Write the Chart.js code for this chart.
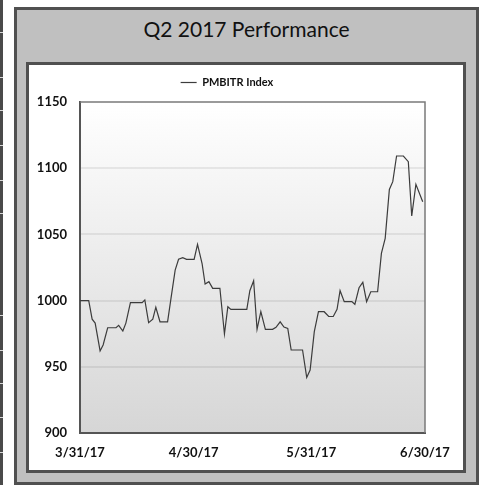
<!DOCTYPE html>
<html>
<head>
<meta charset="utf-8">
<title>Q2 2017 Performance</title>
<script src="https://cdn.jsdelivr.net/npm/chart.js@4.4.1/dist/chart.umd.min.js"></script>
<style>
  body { margin: 0; width: 479px; height: 485px; background: #fff; position: relative; overflow: hidden; font-family: Lato, "Open Sans", sans-serif; }
  #edge { position: absolute; left: 0; top: 0; width: 3px; height: 485px; background: #4a4a4a; }
  .notch { position: absolute; left: 0; width: 3px; height: 1px; background: #d8d8d8; }
  #frame { position: absolute; left: 14px; top: 7px; width: 459px; height: 472px; background: #c0c0c0; border: 3px solid #505050; }
  #title { position: absolute; left: 0; top: 0; width: 100%; height: 38px; line-height: 38px; text-align: center; font-size: 21px; color: #111; }
  #box { position: absolute; left: 9px; top: 52px; width: 434px; height: 405px; background: #fff; border: 3px solid #505050; }
</style>
</head>
<body>
<div id="edge"></div>
<div id="frame">
  <div id="title">Q2 2017 Performance</div>
  <div id="box"><canvas id="perfChart" width="434" height="405"></canvas></div>
</div>
<script>
// PMBITR index level, days counted from 3/31/17
const days = [0, 2.3, 3.2, 4.0, 5.3, 6.1, 7.3, 9.5, 10.2, 11.3, 12.1, 13.3, 16.4, 17.1, 18.1, 19.2, 20.0, 21.1, 23.1,
  24.0, 25.1, 26.0, 27.1, 28.1, 30.1, 31.0, 32.2, 33.0, 34.0, 35.0, 36.9, 38.1, 39.0, 39.8, 44.0, 44.8, 45.8,
  46.7, 47.7, 48.9, 50.8, 51.7, 52.8, 53.8, 54.8, 55.7, 58.7, 59.8, 60.7, 61.8, 62.9, 64.4, 65.6, 66.8, 67.8,
  68.6, 69.7, 71.7, 72.5, 73.6, 74.6, 75.6, 76.7, 78.5, 79.5, 80.5, 81.6, 82.5, 83.5, 85.3, 86.6, 87.5, 88.6, 90.4];
const indexLevel = [1000, 1000, 986, 983, 962, 966.5, 979.5, 979.5, 981.3, 977, 983, 998.4, 998.4, 1000.5, 983.3, 986, 995, 984, 984,
  1001.7, 1023, 1031.2, 1032.4, 1031.2, 1031.2, 1042.5, 1028, 1012.5, 1014.3, 1009.3, 1009.3, 974.8, 995.4, 993.4, 993.4, 1007.5, 1015,
  978.3, 991.6, 978.3, 978.3, 979.8, 984, 980, 979, 962.7, 962.7, 942, 947.6, 976.5, 991.6, 991.6, 988, 988, 993.4,
  1007.5, 999.2, 999.2, 997.2, 1009.7, 1013.8, 999.2, 1006.7, 1006.7, 1035.7, 1047, 1084, 1089.8, 1109.2, 1109.2, 1104.9, 1063.9, 1087.8, 1074.7];

const tickDays = [0, 30, 61, 91];
const tickLabels = ['3/31/17', '4/30/17', '5/31/17', '6/30/17'];
const yMin = 900, yMax = 1150, yStep = 50;

// little table edge peeking in on the left
[32, 77, 110, 145, 180, 213, 315, 350, 383, 417, 452].forEach(y => {
  const n = document.createElement('div');
  n.className = 'notch';
  n.style.top = y + 'px';
  document.body.appendChild(n);
});

// extra space between the legend and the plot
const legendGap = {
  id: 'legendGap',
  beforeInit(chart) {
    const fit = chart.legend.fit;
    chart.legend.fit = function () {
      fit.call(this);
      this.height += 4;
    };
  }
};

// gradient fill behind the plot, plus the light top/right frame
const plotBackdrop = {
  id: 'plotBackdrop',
  beforeDraw(chart) {
    const { ctx, chartArea: a } = chart;
    const g = ctx.createLinearGradient(0, a.top, 0, a.bottom);
    g.addColorStop(0, '#ffffff');
    g.addColorStop(1, '#d6d6d6');
    ctx.save();
    ctx.fillStyle = g;
    ctx.fillRect(a.left, a.top, a.right - a.left, a.bottom - a.top);
    ctx.restore();
  },
  afterDraw(chart) {
    const { ctx, chartArea: a } = chart;
    ctx.save();
    ctx.strokeStyle = '#7a7a7a';
    ctx.lineWidth = 1.5;
    ctx.beginPath();
    ctx.moveTo(a.left, a.top);
    ctx.lineTo(a.right, a.top);
    ctx.lineTo(a.right, a.bottom);
    ctx.stroke();
    ctx.restore();
  }
};

const tickFont = { family: 'Lato', size: 13, weight: 'bold' };

new Chart(document.getElementById('perfChart'), {
  type: 'line',
  data: {
    datasets: [{
      label: 'PMBITR Index',
      data: days.map((d, i) => ({ x: d, y: indexLevel[i] })),
      borderColor: '#3c3c3c',
      backgroundColor: '#3c3c3c',
      borderWidth: 1.2,
      pointRadius: 0,
      tension: 0
    }]
  },
  options: {
    responsive: false,
    devicePixelRatio: 1,
    animation: false,
    layout: { padding: { top: 2, right: 38, left: 0, bottom: 0 } },
    plugins: {
      legend: {
        labels: {
          usePointStyle: true,
          pointStyle: 'line',
          pointStyleWidth: 16,
          color: '#111',
          font: { family: 'Lato', size: 11, weight: 'bold' },
          padding: 10
        }
      },
      tooltip: { enabled: false }
    },
    scales: {
      x: {
        type: 'linear',
        min: 0,
        max: 91,
        afterBuildTicks: scale => { scale.ticks = tickDays.map(v => ({ value: v })); },
        afterFit: scale => { scale.height = 37; },
        ticks: {
          autoSkip: false,
          maxRotation: 0,
          padding: 12,
          color: '#111',
          font: tickFont,
          callback: v => tickLabels[tickDays.indexOf(v)] || ''
        },
        grid: { display: false, drawTicks: false },
        border: { color: '#555', width: 2 }
      },
      y: {
        min: yMin,
        max: yMax,
        afterFit: scale => { scale.width = 51; },
        ticks: { stepSize: yStep, padding: 13, color: '#111', font: tickFont, callback: v => String(v) },
        grid: {
          drawTicks: false,
          lineWidth: 2,
          color: ctx => (ctx.tick.value === yMin || ctx.tick.value === yMax) ? 'rgba(0,0,0,0)' : 'rgba(0,0,0,0.07)'
        },
        border: { color: '#555', width: 2 }
      }
    }
  },
  plugins: [legendGap, plotBackdrop]
});
</script>
</body>
</html>
